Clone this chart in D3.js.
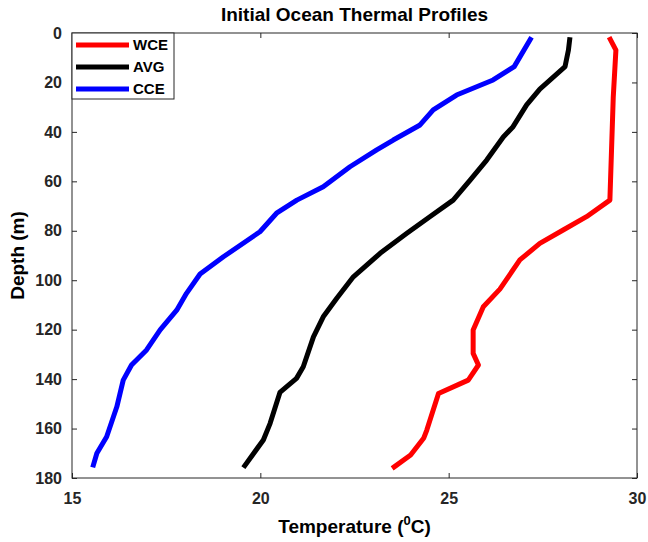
<!DOCTYPE html>
<html>
<head>
<meta charset="utf-8">
<script src="https://cdn.jsdelivr.net/npm/d3@7"></script>
<style>
  html, body { margin: 0; padding: 0; background: #fff; }
  svg { display: block; font-family: "Liberation Sans", Arial, sans-serif; }
</style>
</head>
<body>
<svg id="chart" width="648" height="542"></svg>
<script>
// ---- data ----
const seriesNames = ["WCE", "AVG", "CCE"];
const seriesColors = ["#ff0000", "#000000", "#0000ff"];

const depthWCE = [1.7, 6.9, 25.8, 67.6, 74.3, 79.7, 85.1, 91.8, 103.6, 110.7, 120.1, 129.6, 134.3, 140.4, 145.8, 160.6, 163.8, 170.7, 176.1];
const tempWCE  = [29.26, 29.44, 29.37, 29.28, 28.66, 28.04, 27.42, 26.89, 26.36, 25.92, 25.65, 25.65, 25.79, 25.52, 24.73, 24.42, 24.34, 23.99, 23.50];

const depthAVG = [1.7, 6.9, 13.6, 22.7, 29.1, 37.9, 42.1, 51.4, 59.5, 67.6, 74.3, 81.0, 89.1, 98.6, 107.3, 114.8, 122.9, 135.0, 139.7, 145.4, 157.9, 164.6, 175.8];
const tempAVG  = [28.22, 28.18, 28.09, 27.42, 27.07, 26.71, 26.45, 26.01, 25.57, 25.12, 24.50, 23.89, 23.18, 22.47, 22.03, 21.67, 21.41, 21.14, 20.96, 20.52, 20.26, 20.08, 19.55];

const depthCCE = [1.7, 13.6, 19.0, 25.1, 31.1, 37.2, 43.3, 47.3, 54.1, 62.2, 67.6, 72.9, 80.4, 90.5, 97.5, 105.3, 112.1, 120.1, 128.2, 134.3, 140.4, 151.2, 163.3, 170.0, 175.7];
const tempCCE  = [27.20, 26.74, 26.18, 25.21, 24.59, 24.24, 23.53, 23.09, 22.38, 21.67, 20.97, 20.43, 19.99, 19.02, 18.40, 18.04, 17.78, 17.34, 16.98, 16.58, 16.36, 16.19, 15.92, 15.66, 15.55];

const xTicks = [15, 20, 25, 30];
const yTicks = [0, 20, 40, 60, 80, 100, 120, 140, 160, 180];

const titleText = "Initial Ocean Thermal Profiles";
const yLabelText = "Depth (m)";

// ---- layout ----
const svg = d3.select("#chart");
const L = 72, R = 637, T = 33, B = 478;
const axisColor = "#262626";

const x = d3.scaleLinear().domain([15, 30]).range([L, R]);
const y = d3.scaleLinear().domain([0, 180]).range([T, B]);

svg.append("rect").attr("x", L).attr("y", T).attr("width", R - L).attr("height", B - T)
  .attr("fill", "#fff");

// lines
const series = [
  { name: seriesNames[0], color: seriesColors[0], d: depthWCE, t: tempWCE },
  { name: seriesNames[1], color: seriesColors[1], d: depthAVG, t: tempAVG },
  { name: seriesNames[2], color: seriesColors[2], d: depthCCE, t: tempCCE }
];
const line = d3.line().x(p => x(p[0])).y(p => y(p[1]));
series.forEach(s => {
  const pts = s.t.map((v, i) => [v, s.d[i]]);
  svg.append("path").datum(pts).attr("d", line)
    .attr("fill", "none").attr("stroke", s.color)
    .attr("stroke-width", 5).attr("stroke-linejoin", "round").attr("stroke-linecap", "butt");
});

// axes (ticks inward, MATLAB box)
function styleAxis(g) {
  g.selectAll(".domain").remove();
  g.selectAll(".tick line").attr("stroke", axisColor).attr("stroke-width", 1);
  g.selectAll(".tick text").attr("fill", axisColor).attr("font-weight", "bold")
    .attr("font-size", 16).attr("font-family", "Liberation Sans, Arial, sans-serif");
}
const xAxisB = svg.append("g").attr("transform", `translate(0,${B})`)
  .call(d3.axisBottom(x).tickValues(xTicks).tickFormat(d3.format("d")).tickSizeInner(-5).tickPadding(12));
styleAxis(xAxisB);
xAxisB.selectAll(".tick text").attr("dy", "0.9em");
const xAxisT = svg.append("g").attr("transform", `translate(0,${T})`)
  .call(d3.axisTop(x).tickValues(xTicks).tickFormat("").tickSizeInner(-5));
styleAxis(xAxisT);
const yAxisL = svg.append("g").attr("transform", `translate(${L},0)`)
  .call(d3.axisLeft(y).tickValues(yTicks).tickFormat(d3.format("d")).tickSizeInner(-5).tickPadding(10));
styleAxis(yAxisL);
const yAxisR = svg.append("g").attr("transform", `translate(${R},0)`)
  .call(d3.axisRight(y).tickValues(yTicks).tickFormat("").tickSizeInner(-5));
styleAxis(yAxisR);

// box
svg.append("rect").attr("x", L).attr("y", T).attr("width", R - L).attr("height", B - T)
  .attr("fill", "none").attr("stroke", axisColor).attr("stroke-width", 1);

// title
svg.append("text").attr("x", (L + R) / 2).attr("y", 21).attr("text-anchor", "middle")
  .attr("font-weight", "bold").attr("font-size", 19).attr("fill", "#000").text(titleText);

// x label with superscript
const xl = svg.append("text").attr("x", (L + R) / 2).attr("y", 533).attr("text-anchor", "middle")
  .attr("font-weight", "bold").attr("font-size", 19).attr("fill", "#000");
xl.append("tspan").text("Temperature (");
xl.append("tspan").attr("dy", -8).attr("font-size", 13).text("0");
xl.append("tspan").attr("dy", 8).text("C)");

// y label
svg.append("text").attr("transform", `translate(24,${(T + B) / 2}) rotate(-90)`)
  .attr("text-anchor", "middle").attr("font-weight", "bold").attr("font-size", 19)
  .attr("fill", "#000").text(yLabelText);

// legend
const lg = svg.append("g");
lg.append("rect").attr("x", L).attr("y", T).attr("width", 102).attr("height", 66)
  .attr("fill", "#fff").attr("stroke", axisColor).attr("stroke-width", 1);
series.forEach((s, i) => {
  const yy = T + 12 + i * 22;
  lg.append("line").attr("x1", L + 4).attr("x2", L + 57).attr("y1", yy).attr("y2", yy)
    .attr("stroke", s.color).attr("stroke-width", 5);
  lg.append("text").attr("x", L + 61).attr("y", yy).attr("dy", "0.36em")
    .attr("font-weight", "bold").attr("font-size", 15).attr("fill", "#000").text(s.name);
});
</script>
</body>
</html>
